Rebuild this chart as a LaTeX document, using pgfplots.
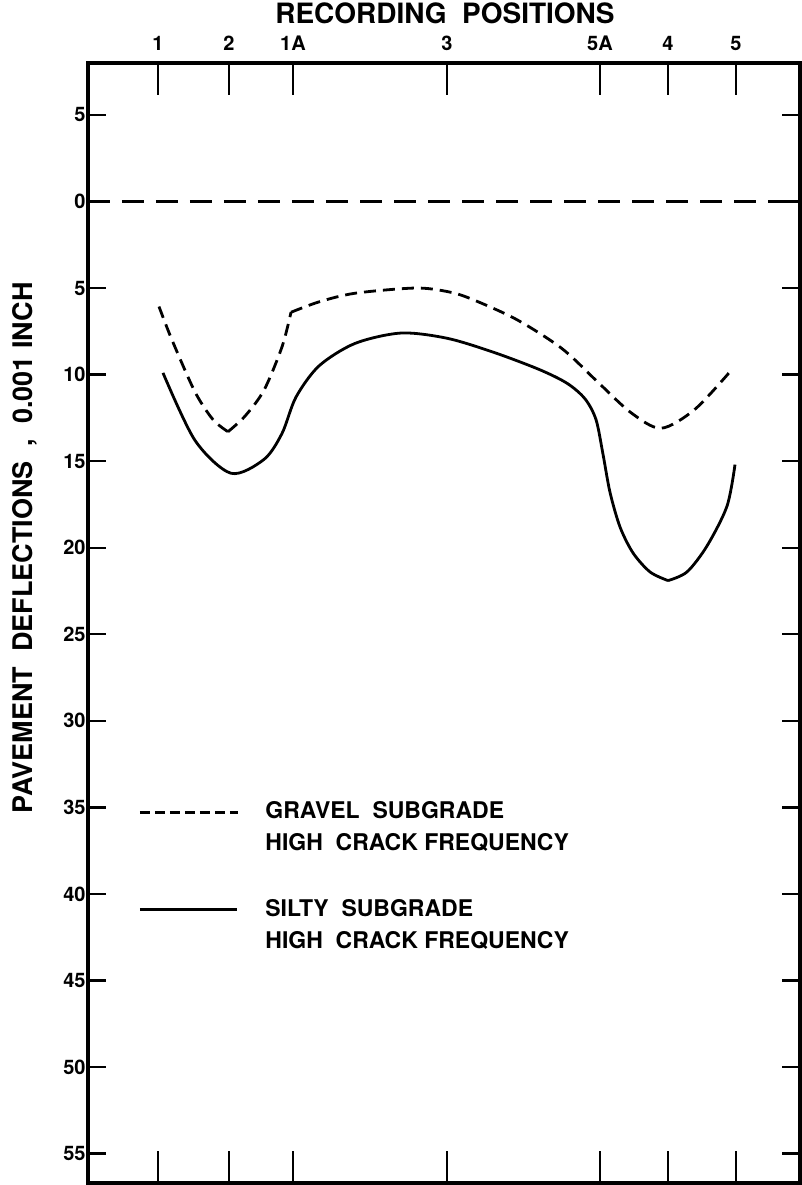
\documentclass[border=0pt]{standalone}
\usepackage{fontspec}
\setmainfont{TeX Gyre Heros}
\usepackage{pgfplots}
\pgfplotsset{compat=1.18}
\begin{document}
\begin{tikzpicture}
\begin{axis}[
  name=ax,
  scale only axis,
  width=356pt, height=560pt,
  xmin=0, xmax=712,
  ymin=-8, ymax=56.7,
  y dir=reverse,
  clip=false,
  axis line style={line width=2pt},
  xtick={70,141,205,359,512,580,648},
  xticklabels={1,2,1A,3,5A,4,5},
  xtick pos=both, xticklabel pos=top,
  ytick={-5,0,5,10,15,20,25,30,35,40,45,50,55},
  yticklabels={5,0,5,10,15,20,25,30,35,40,45,50,55},
  ytick pos=both, yticklabel pos=left,
  tick align=inside,
  xtick style={line width=1.2pt, black, /pgfplots/major tick length=16pt},
  ytick style={line width=1.2pt, black, /pgfplots/major tick length=9pt},
  /pgf/number format/assume math mode=true,
  ticklabel style={font=\fontsize{10}{11}\selectfont\bfseries},
  yticklabel style={inner xsep=1pt},
  xticklabel style={yshift=2.5pt},
]
% zero reference line
\addplot [black, line width=1.5pt, dash pattern=on 11pt off 6pt] coordinates {(0,0) (712,0)};
% gravel subgrade (dashed)
\addplot [black, line width=1.4pt, dash pattern=on 6pt off 3.5pt, smooth, tension=0.5] coordinates {
 (71,6.07) (84,8.0) (107,11.0) (125,12.6) (140,13.3)};
\addplot [black, line width=1.4pt, dash pattern=on 6pt off 3.5pt, smooth, tension=0.5] coordinates {
 (140,13.3) (157,12.4) (176,10.9) (194,8.4) (203,6.4)};
\addplot [black, line width=1.4pt, dash pattern=on 6pt off 3.5pt, smooth, tension=0.5] coordinates {
 (203,6.4) (231,5.8) (267,5.3) (327,5.0) (359,5.2) (382,5.6) (428,6.8) (474,8.5) (511,10.5) (543,12.2) (573,13.1) (607,12.0) (644,9.7)};
% silty subgrade (solid)
\addplot [black, line width=1.4pt, smooth, tension=0.5] coordinates {
 (75,9.9) (107,13.8) (143,15.7) (176,14.9) (194,13.4) (208,11.3) (231,9.5) (267,8.2) (313,7.6) (359,7.9) (405,8.7) (451,9.7) (479,10.5) (497,11.4) (508,12.6) (515,14.6) (522,16.8) (532,18.8) (545,20.3) (562,21.4) (580,21.9)};
\addplot [black, line width=1.4pt, smooth, tension=0.5] coordinates {
 (580,21.9) (599,21.4) (619,19.9) (639,17.6) (647,15.2)};
% legend
\draw [black, line width=1.4pt, dash pattern=on 5pt off 2.5pt] (axis cs:52,35.3) -- (axis cs:150,35.3);
\draw [black, line width=1.4pt] (axis cs:52,40.9) -- (axis cs:149,40.9);
\node [anchor=west, inner sep=0pt, align=left, font=\fontsize{11.5}{16}\selectfont\bfseries] at (axis cs:177,36.1) {GRAVEL\ \ SUBGRADE\\HIGH\ \ CRACK FREQUENCY};
\node [anchor=west, inner sep=0pt, align=left, font=\fontsize{11.5}{16}\selectfont\bfseries] at (axis cs:177,41.75) {SILTY\ \ SUBGRADE\\HIGH\ \ CRACK FREQUENCY};
% titles
\node [font=\fontsize{14}{16}\selectfont\bfseries] at (axis cs:357,-10.9) {RECORDING\ \ POSITIONS};
\node [rotate=90, font=\fontsize{13.5}{16}\selectfont\bfseries] at (axis cs:-63,20.0) {PAVEMENT\ \ DEFLECTIONS\ \ ,\ \ 0.001 INCH};
\end{axis}
\pgfresetboundingbox
\path[use as bounding box] ([xshift=-44pt,yshift=-1pt]ax.south west) rectangle ([xshift=1pt,yshift=31.5pt]ax.north east);
\end{tikzpicture}
\end{document}
